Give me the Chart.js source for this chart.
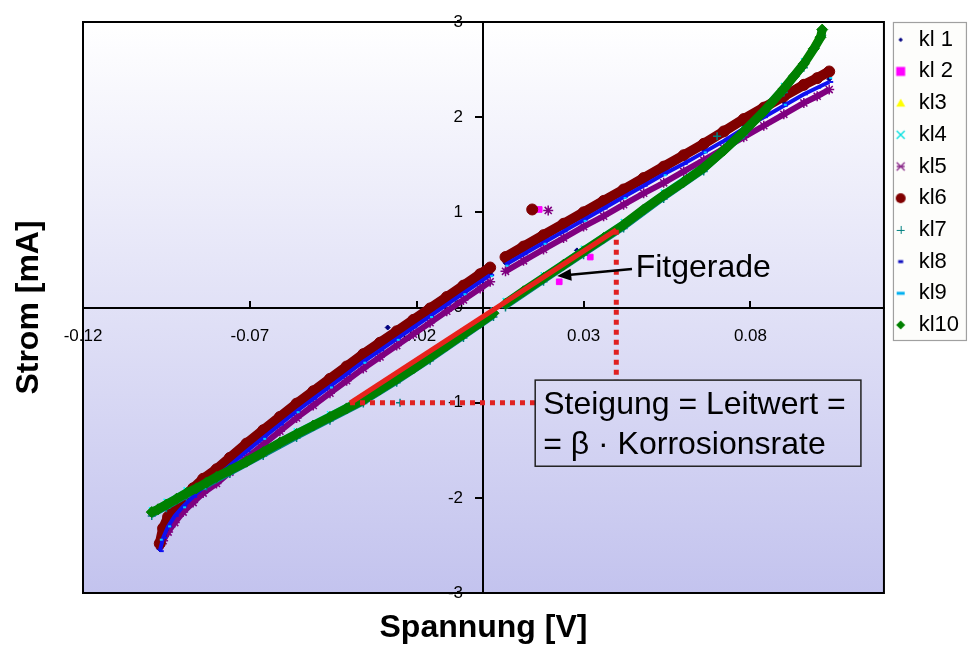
<!DOCTYPE html>
<html><head><meta charset="utf-8">
<script src="https://cdn.jsdelivr.net/npm/chart.js@4.4.1/dist/chart.umd.min.js"></script>
<style>html,body{margin:0;padding:0;background:#fff}#wrap{width:969px;height:646px}</style>
</head><body><div id="wrap"><canvas id="c" width="969" height="646"></canvas></div>
<script>
// ---------- Daten ----------
const serienNamen = ['kl 1','kl 2','kl3','kl4','kl5','kl6','kl7','kl8','kl9','kl10'];
const xTickWerte = [-0.12,-0.07,-0.02,0.03,0.08];
const xTickLabels = ['-0.12','-0.07','-0.02','0.03','0.08'];
const yTickWerte = [-3,-2,-1,0,1,2,3];
const yTickLabels = ['-3','-2','-1','0','1','2','3'];

const spannungOben = [-0.0970,-0.0960,-0.0945,-0.0925,-0.0900,-0.0870,-0.0840,-0.0800,-0.0760,-0.0710,
  -0.0660,-0.0610,-0.0560,-0.0510,-0.0460,-0.0410,-0.0360,-0.0310,-0.0260,-0.0210,
  -0.0160,-0.0110,-0.0060,-0.0010,0.0020,0.0043,0.0066,0.0120,0.0180,0.0240,
  0.0300,0.0360,0.0420,0.0480,0.0540,0.0600,0.0660,0.0720,0.0780,0.0840,
  0.0900,0.0960,0.1000,0.1036];
const spannungObenGrob = [-0.0970,-0.0945,-0.0900,-0.0840,-0.0760,-0.0660,-0.0560,-0.0460,-0.0360,-0.0260,
  -0.0160,-0.0060,0.0020,0.0043,0.0066,0.0180,0.0300,0.0420,0.0540,0.0660,0.0780,0.0900,0.1036];
const spannungUnten = [-0.0994,-0.0975,-0.0950,-0.0920,-0.0890,-0.0860,-0.0830,-0.0800,-0.0760,-0.0710,
  -0.0660,-0.0610,-0.0560,-0.0510,-0.0460,-0.0410,-0.0360,-0.0310,-0.0260,-0.0210,
  -0.0160,-0.0110,-0.0060,-0.0010,0.0030,0.0048,0.0066,0.0120,0.0180,0.0240,
  0.0300,0.0360,0.0420,0.0480,0.0540,0.0600,0.0660,0.0720,0.0780,0.0840,
  0.0900,0.0930,0.0960,0.0990,0.1010,0.1015];
const spannungUntenGrob = [-0.0994,-0.0950,-0.0890,-0.0830,-0.0760,-0.0660,-0.0560,-0.0460,-0.0360,-0.0260,
  -0.0160,-0.0060,0.0030,0.0048,0.0066,0.0180,0.0300,0.0420,0.0540,0.0660,0.0780,0.0900,0.0960,0.1015];

// Strom [mA]
const kl6 = [-2.48,-2.32,-2.20,-2.10,-2.00,-1.90,-1.80,-1.70,-1.58,-1.43,
  -1.29,-1.15,-1.01,-0.88,-0.75,-0.62,-0.49,-0.37,-0.25,-0.13,
  -0.01,0.11,0.23,0.35,0.42,null,0.53,0.64,0.76,0.88,
  1.00,1.12,1.24,1.36,1.48,1.60,1.72,1.85,1.98,2.10,
  2.22,2.34,2.41,2.48];
const kl8 = [-2.56,-2.42,-2.30,-2.19,-2.09,-1.99,-1.89,-1.78,-1.66,-1.51,
  -1.37,-1.23,-1.09,-0.96,-0.83,-0.70,-0.57,-0.45,-0.33,-0.21,
  -0.09,0.03,0.15,0.27,0.34,null,0.45,0.56,0.68,0.80,
  0.92,1.04,1.16,1.28,1.40,1.51,1.63,1.75,1.88,2.00,
  2.12,2.24,2.31,2.37];
const kl5 = [-2.50,-2.45,-2.36,-2.26,-2.15,-2.05,-1.95,-1.85,-1.73,-1.58,
  -1.44,-1.30,-1.16,-1.03,-0.90,-0.77,-0.64,-0.52,-0.40,-0.28,
  -0.16,-0.04,0.08,0.20,0.27,null,0.38,0.49,0.61,0.73,
  0.85,0.96,1.08,1.20,1.31,1.43,1.55,1.67,1.79,1.91,
  2.03,2.15,2.22,2.29];
const kl1 = [-2.54,-2.27,-2.07,-1.86,-1.64,-1.35,-1.07,-0.81,-0.55,-0.31,
  -0.07,0.17,0.36,null,0.47,0.70,0.94,1.18,1.42,1.66,1.92,2.16,2.40];
const kl9 = [-2.44,-2.30,-2.10,-1.90,-1.67,-1.38,-1.10,-0.84,-0.58,-0.34,
  -0.10,0.14,0.33,null,0.44,0.67,0.91,1.15,1.39,1.63,1.89,2.13,2.41];

const kl10 = [-2.15,-2.12,-2.07,-2.01,-1.95,-1.90,-1.84,-1.78,-1.71,-1.62,
  -1.52,-1.42,-1.33,-1.24,-1.15,-1.06,-0.97,-0.86,-0.75,-0.64,
  -0.52,-0.40,-0.28,-0.16,-0.06,null,0.04,0.17,0.31,0.45,
  0.59,0.73,0.87,1.03,1.18,1.32,1.47,1.65,1.85,2.06,
  2.30,2.43,2.56,2.72,2.84,2.92];
const kl7 = [-2.19,-2.11,-1.99,-1.88,-1.75,-1.56,-1.37,-1.19,-1.01,-0.79,
  -0.56,-0.32,-0.10,null,0.00,0.27,0.55,0.83,1.14,1.43,1.81,2.26,2.52,2.86];
const kl4 = [-2.13,-2.04,-1.92,-1.81,-1.68,-1.49,-1.30,-1.12,-0.94,-0.72,
  -0.49,-0.25,-0.03,null,0.07,0.34,0.62,0.90,1.21,1.50,1.88,2.33,2.59,2.87];
const kl3 = [-2.14,-2.06,-1.94,-1.83,-1.70,-1.51,-1.32,-1.14,-0.96,-0.74,
  -0.51,-0.27,-0.05,null,0.05,0.32,0.60,0.88,1.19,1.48,1.86,2.31,2.57,2.93];
const kl2 = [-2.16,-2.08,-1.96,-1.85,-1.72,-1.53,-1.34,-1.16,-0.98,-0.76,
  -0.53,-0.29,-0.07,null,0.03,0.30,0.58,0.86,1.17,1.46,1.84,2.29,2.55,2.90];

// Einzelne Ausreisser [Spannung, Strom]
const kl1Streu = [[-0.0287,-0.21],[0.0280,0.60]];
const kl2Streu = [[0.0227,0.27],[0.0167,1.03],[0.0320,0.53]];
const kl5Streu = [[0.0194,1.02]];
const kl6Streu = [[0.0146,1.03]];
const kl7Streu = [[-0.0250,-1.00],[0.0700,1.80]];

// Fitgerade und Hilfslinien
const fitSpannung = [-0.0400, 0.0398];
const fitStrom = [-1.005, 0.816];
const hilfHSpannung = [-0.0400, 0.0155];
const hilfHStrom = [-1.0, -1.0];
const hilfVSpannung = [0.0398, 0.0398];
const hilfVStrom = [0.816, -0.763];

// ---------- Aufbau ----------
const FONT = '"Liberation Sans", Arial, sans-serif';
function punkte(xs, ys, streu) {
  const d = xs.map((x, i) => ({x: x, y: ys[i]}));
  if (streu) streu.forEach(p => { d.push({x: p[0], y: null}); d.push({x: p[0], y: p[1]}); });
  return d;
}
function serie(i, xs, ys, streu, farbe, form, radius, linie, pbw) {
  return {
    label: serienNamen[i], data: punkte(xs, ys, streu),
    borderColor: farbe, backgroundColor: farbe, pointBackgroundColor: farbe, pointBorderColor: farbe,
    pointStyle: form, pointRadius: radius, pointHoverRadius: radius, pointBorderWidth: pbw || 1,
    borderWidth: linie, showLine: linie > 0, spanGaps: false, tension: 0, order: 10 - i
  };
}
const datasets = [
  serie(0, spannungObenGrob, kl1, kl1Streu, '#000080', 'rectRot', 2.5, 0),
  serie(1, spannungUntenGrob, kl2, kl2Streu, '#ff00ff', 'rect', 4, 4),
  serie(2, spannungUntenGrob, kl3, null, '#ffff00', 'triangle', 4, 4),
  serie(3, spannungUntenGrob, kl4, null, '#00ffff', 'crossRot', 4, 4, 1.5),
  serie(4, spannungOben, kl5, kl5Streu, '#800080', 'star', 5, 6, 1.5),
  serie(5, spannungOben, kl6, kl6Streu, '#800000', 'circle', 5.5, 10),
  serie(6, spannungUntenGrob, kl7, kl7Streu, '#008080', 'cross', 4, 4, 1.5),
  serie(7, spannungOben, kl8, null, '#1010f0', 'dash', 4, 4, 2),
  serie(8, spannungObenGrob, kl9, null, '#00ccff', 'dash', 3, 0, 2),
  serie(9, spannungUnten, kl10, null, '#008000', 'rectRot', 5.5, 9)
];
function hilfslinie(xs, ys, farbe, breite, dash) {
  return { label: '', data: punkte(xs, ys), borderColor: farbe, backgroundColor: farbe,
    borderWidth: breite, borderDash: dash, pointRadius: 0, pointHoverRadius: 0,
    showLine: true, tension: 0, order: -1, borderCapStyle: 'butt' };
}
datasets.push(hilfslinie(fitSpannung, fitStrom, '#e8221c', 5, []));
datasets.push(hilfslinie(hilfHSpannung, hilfHStrom, '#e02020', 5, [5, 5]));
datasets.push(hilfslinie(hilfVSpannung, hilfVStrom, '#e02020', 5, [5, 5]));

// kleine Legendensymbole
function symbol(form, farbe, s) {
  const c = document.createElement('canvas');
  c.width = 14; c.height = 14;
  const g = c.getContext('2d');
  const m = 7;
  g.fillStyle = farbe; g.strokeStyle = farbe;
  g.beginPath();
  if (form === 'dot') { g.moveTo(m, m - s); g.lineTo(m + s, m); g.lineTo(m, m + s); g.lineTo(m - s, m); g.closePath(); g.fill(); }
  else if (form === 'rect') { g.fillRect(m - s, m - s, 2 * s, 2 * s); }
  else if (form === 'tri') { g.moveTo(m, m - s); g.lineTo(m + s, m + s * 0.8); g.lineTo(m - s, m + s * 0.8); g.closePath(); g.fill(); }
  else if (form === 'x') { g.lineWidth = 1.4; g.moveTo(m - s, m - s); g.lineTo(m + s, m + s); g.moveTo(m + s, m - s); g.lineTo(m - s, m + s); g.stroke(); }
  else if (form === 'star') { g.lineWidth = 1.4; g.moveTo(m - s, m - s); g.lineTo(m + s, m + s); g.moveTo(m + s, m - s); g.lineTo(m - s, m + s); g.moveTo(m - s, m); g.lineTo(m + s, m); g.stroke(); }
  else if (form === 'circle') { g.arc(m, m, s, 0, Math.PI * 2); g.fill(); }
  else if (form === 'plus') { g.lineWidth = 1; g.moveTo(m - s, m + 0.5); g.lineTo(m + s, m + 0.5); g.moveTo(m + 0.5, m - s); g.lineTo(m + 0.5, m + s); g.stroke(); }
  else if (form === 'dash') { g.lineWidth = 3; g.moveTo(m - s, m); g.lineTo(m + s, m); g.stroke(); }
  else if (form === 'diamond') { g.moveTo(m, m - s); g.lineTo(m + s, m); g.lineTo(m, m + s); g.lineTo(m - s, m); g.closePath(); g.fill(); }
  return c;
}
const legendenSymbole = [
  symbol('dot', '#000080', 2.2), symbol('rect', '#ff00ff', 4.5), symbol('tri', '#ffff00', 4.5),
  symbol('x', '#00e0e0', 4), symbol('star', '#8a2a8a', 4), symbol('circle', '#800000', 5),
  symbol('plus', '#008080', 4), symbol('dash', '#1010c0', 2.5), symbol('dash', '#00b0f0', 4),
  symbol('diamond', '#008000', 4.5)
];

const dekor = {
  id: 'dekor',
  afterLayout(chart) {
    const L = chart.legend;
    if (L && !L._verschoben) { L.top -= 3; L.bottom -= 3; L._verschoben = true; }
  },
  beforeDraw(chart) {
    const {ctx, chartArea: a} = chart;
    ctx.save();
    ctx.fillStyle = '#ffffff';
    ctx.fillRect(0, 0, chart.width, chart.height);
    const g = ctx.createLinearGradient(0, a.top, 0, a.bottom);
    g.addColorStop(0, '#ffffff');
    g.addColorStop(1, '#c3c3ee');
    ctx.fillStyle = g;
    ctx.fillRect(a.left, a.top, a.right - a.left, a.bottom - a.top);
    // Legendenrahmen
    const x0 = a.right + 9, y0 = a.top;
    ctx.fillStyle = '#fdfdfb';
    ctx.fillRect(x0, y0, 73, 318);
    ctx.strokeStyle = '#a0a0a0';
    ctx.lineWidth = 1.2;
    ctx.strokeRect(x0 + 0.5, y0 + 0.5, 73, 318);
    ctx.restore();
  },
  afterDraw(chart) {
    const {ctx, chartArea: a, scales: {x, y}} = chart;
    ctx.save();
    // Rahmen der Zeichenfläche
    ctx.strokeStyle = '#000';
    ctx.lineWidth = 2;
    ctx.strokeRect(a.left, a.top, a.right - a.left, a.bottom - a.top);
    // Achsentitel
    ctx.fillStyle = '#000';
    ctx.font = 'bold 32px ' + FONT;
    ctx.textAlign = 'center';
    ctx.textBaseline = 'middle';
    ctx.fillText('Spannung [V]', x.getPixelForValue(0), 628);
    ctx.save();
    ctx.translate(29, y.getPixelForValue(0));
    ctx.rotate(-Math.PI / 2);
    ctx.fillText('Strom [mA]', 0, 0);
    ctx.restore();
    // Textkasten
    const bx0 = x.getPixelForValue(0.0155), bx1 = x.getPixelForValue(0.1131);
    const by0 = y.getPixelForValue(-0.763), by1 = y.getPixelForValue(-1.668);
    ctx.strokeStyle = '#222';
    ctx.lineWidth = 1.5;
    ctx.strokeRect(bx0, by0, bx1 - bx0, by1 - by0);
    ctx.font = '32px ' + FONT;
    ctx.textAlign = 'left';
    ctx.fillStyle = '#000';
    ctx.fillText('Steigung = Leitwert =', bx0 + 8, by0 + 25);
    ctx.fillText('= \u03B2 \u00B7 Korrosionsrate', bx0 + 8, by0 + 65);
    // Fitgerade mit Pfeil
    const tx = x.getPixelForValue(0.0456), ty = y.getPixelForValue(0.41);
    ctx.fillText('Fitgerade', tx, ty);
    const ax0 = x.getPixelForValue(0.0445), ay0 = y.getPixelForValue(0.405);
    const ax1 = x.getPixelForValue(0.0221), ay1 = y.getPixelForValue(0.33);
    const ang = Math.atan2(ay1 - ay0, ax1 - ax0);
    ctx.strokeStyle = '#000';
    ctx.lineWidth = 2.5;
    ctx.beginPath();
    ctx.moveTo(ax0, ay0);
    ctx.lineTo(ax1 - Math.cos(ang) * 8, ay1 - Math.sin(ang) * 8);
    ctx.stroke();
    ctx.beginPath();
    ctx.moveTo(ax1, ay1);
    ctx.lineTo(ax1 - Math.cos(ang) * 14 + Math.sin(ang) * 6, ay1 - Math.sin(ang) * 14 - Math.cos(ang) * 6);
    ctx.lineTo(ax1 - Math.cos(ang) * 14 - Math.sin(ang) * 6, ay1 - Math.sin(ang) * 14 + Math.cos(ang) * 6);
    ctx.closePath();
    ctx.fillStyle = '#000';
    ctx.fill();
    ctx.restore();
  }
};

new Chart(document.getElementById('c'), {
  type: 'scatter',
  data: { datasets: datasets },
  plugins: [dekor],
  options: {
    responsive: false, animation: false, devicePixelRatio: 1,
    layout: { padding: { left: 83, top: 22, right: 0, bottom: 53 } },
    plugins: {
      tooltip: { enabled: false },
      legend: {
        position: 'right', align: 'start',
        labels: {
          usePointStyle: true, boxWidth: 14, boxHeight: 14, padding: 9.7, color: '#000',
          font: { family: FONT, size: 22 },
          filter: (item) => item.datasetIndex < 10,
          sort: (a, b) => a.datasetIndex - b.datasetIndex,
          generateLabels: (chart) => Chart.defaults.plugins.legend.labels.generateLabels(chart).map(l => {
            if (l.datasetIndex < 10) l.pointStyle = legendenSymbole[l.datasetIndex];
            l.lineWidth = 0;
            return l;
          })
        }
      }
    },
    scales: {
      x: {
        type: 'linear', min: -0.12, max: 0.12, position: { y: 0 },
        afterBuildTicks: (s) => { s.ticks = xTickWerte.map(v => ({ value: v })); },
        ticks: {
          autoSkip: false, maxRotation: 0, color: '#000', padding: 27,
          font: { family: FONT, size: 17 },
          callback: (v) => { const i = xTickWerte.indexOf(v); return i >= 0 ? xTickLabels[i] : ''; }
        },
        grid: { drawOnChartArea: false, drawTicks: true, tickLength: -8, color: '#000', lineWidth: 2 },
        border: { color: '#000', width: 2 }
      },
      y: {
        type: 'linear', min: -3, max: 3, position: { x: 0 },
        afterBuildTicks: (s) => { s.ticks = yTickWerte.map(v => ({ value: v })); },
        ticks: {
          autoSkip: false, color: '#000',
          font: { family: FONT, size: 17 },
          callback: (v) => { const i = yTickWerte.indexOf(v); return i >= 0 ? yTickLabels[i] + '\u2003\u2009' : ''; }
        },
        grid: { drawOnChartArea: false, drawTicks: true, tickLength: 7, color: '#000', lineWidth: 2 },
        border: { color: '#000', width: 2 }
      }
    }
  }
});
</script>
</body></html>
